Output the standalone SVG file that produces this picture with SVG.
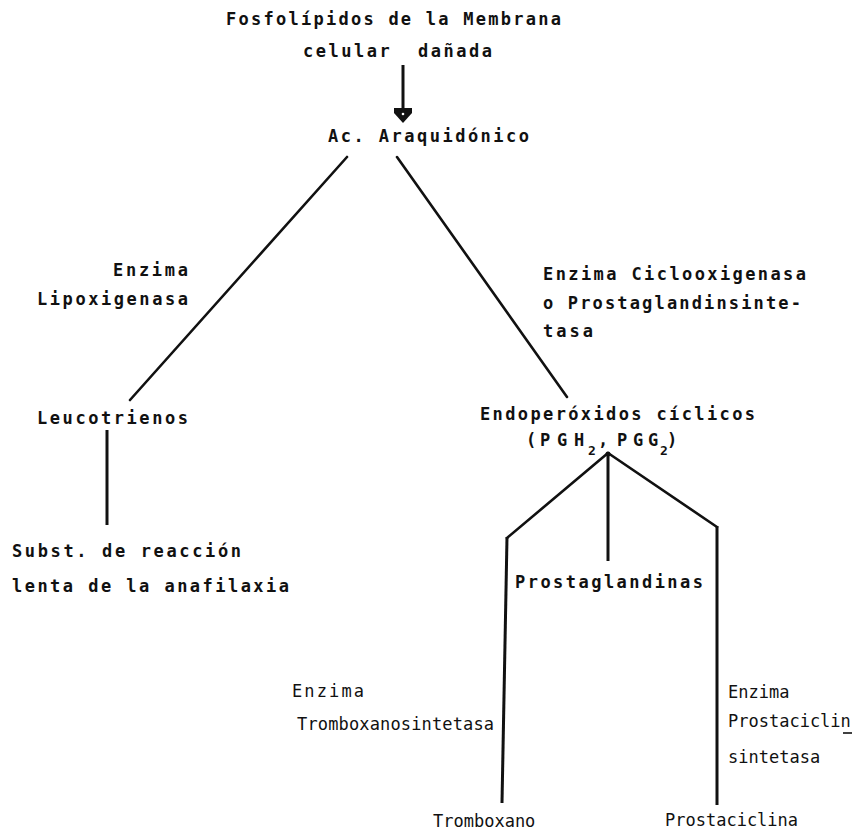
<svg xmlns="http://www.w3.org/2000/svg" width="858" height="835" viewBox="0 0 858 835">
<style>
.t{font-family:"DejaVu Sans Mono","Liberation Mono",monospace;font-size:17px;font-weight:bold;fill:#111}
.r{font-family:"DejaVu Sans Mono","Liberation Mono",monospace;font-size:17px;font-weight:normal;fill:#111}
.s{font-size:13px}
.c{stroke:#111;stroke-width:2.6;fill:none;stroke-linecap:round;stroke-linejoin:round}
.v{stroke:#111;stroke-width:3;fill:none;stroke-linecap:butt;stroke-linejoin:round}
</style>
<rect width="858" height="835" fill="#fff"/>
<g id="connectors">
<line class="v" x1="403" y1="65" x2="403" y2="112"/>
<polygon points="394,108 412,108 412,113 403,123 394,113" fill="#111"/>
<circle cx="403" cy="114" r="1.3" fill="#fff"/>
<line class="c" x1="347" y1="157" x2="130" y2="400"/>
<line class="c" x1="397" y1="157" x2="567" y2="397"/>
<line class="v" x1="107" y1="430" x2="107" y2="525"/>
<polyline class="c" points="507,538 608,453 717,527"/>
<line class="v" x1="507" y1="537" x2="502" y2="803"/>
<line class="v" x1="608" y1="453" x2="608" y2="561"/>
<line class="v" x1="717" y1="526" x2="717" y2="805"/>
<circle cx="608" cy="454" r="2.5" fill="#111"/>
</g>
<g id="fosfolipidos">
<text class="t" x="226" y="25" textLength="335" lengthAdjust="spacing">Fosfolípidos de la Membrana</text>
<text class="t" x="303" y="57" textLength="189" lengthAdjust="spacing" xml:space="preserve">celular  dañada</text>
</g>
<g id="araquidonico">
<text class="t" x="328" y="142" textLength="201" lengthAdjust="spacing">Ac. Araquidónico</text>
</g>
<g id="lipoxigenasa">
<text class="t" x="113" y="276" textLength="75" lengthAdjust="spacing">Enzima</text>
<text class="t" x="37" y="305" textLength="151" lengthAdjust="spacing">Lipoxigenasa</text>
</g>
<g id="ciclooxigenasa">
<text class="t" x="543" y="280" textLength="263" lengthAdjust="spacing">Enzima Ciclooxigenasa</text>
<text class="t" x="543" y="309" textLength="258" lengthAdjust="spacing">o Prostaglandinsinte-</text>
<text class="t" x="543" y="337" textLength="50" lengthAdjust="spacing">tasa</text>
</g>
<g id="leucotrienos">
<text class="t" x="37" y="424" textLength="151" lengthAdjust="spacing">Leucotrienos</text>
</g>
<g id="subst">
<text class="t" x="12" y="557" textLength="229" lengthAdjust="spacing">Subst. de reacción</text>
<text class="t" x="12" y="592" textLength="277" lengthAdjust="spacing">lenta de la anafilaxia</text>
</g>
<g id="endoperoxidos">
<text class="t" x="480" y="420" textLength="275" lengthAdjust="spacing">Endoperóxidos cíclicos</text>
<text class="t"><tspan x="526 540 557 574" y="446">(PGH</tspan><tspan class="s" x="588" y="455">2</tspan><tspan x="598 608 617 633 648" y="446">, PGG</tspan><tspan class="s" x="660" y="455">2</tspan><tspan x="667" y="446">)</tspan></text>
</g>
<g id="prostaglandinas">
<text class="t" x="515" y="588" textLength="188" lengthAdjust="spacing">Prostaglandinas</text>
</g>
<g id="tromboxanosintetasa">
<text class="r" x="292" y="697" textLength="72" lengthAdjust="spacing">Enzima</text>
<text class="r" x="297" y="730" textLength="197" lengthAdjust="spacing">Tromboxanosintetasa</text>
</g>
<g id="prostaciclinsintetasa">
<text class="r" x="728" y="698">Enzima</text>
<text class="r" x="728" y="727">Prostaciclin</text>
<line x1="843" y1="733" x2="852" y2="733" stroke="#111" stroke-width="1.6"/>
<text class="r" x="728" y="763">sintetasa</text>
</g>
<g id="tromboxano">
<text class="r" x="433" y="827">Tromboxano</text>
</g>
<g id="prostaciclina">
<text class="r" x="665" y="826">Prostaciclina</text>
</g>
</svg>
